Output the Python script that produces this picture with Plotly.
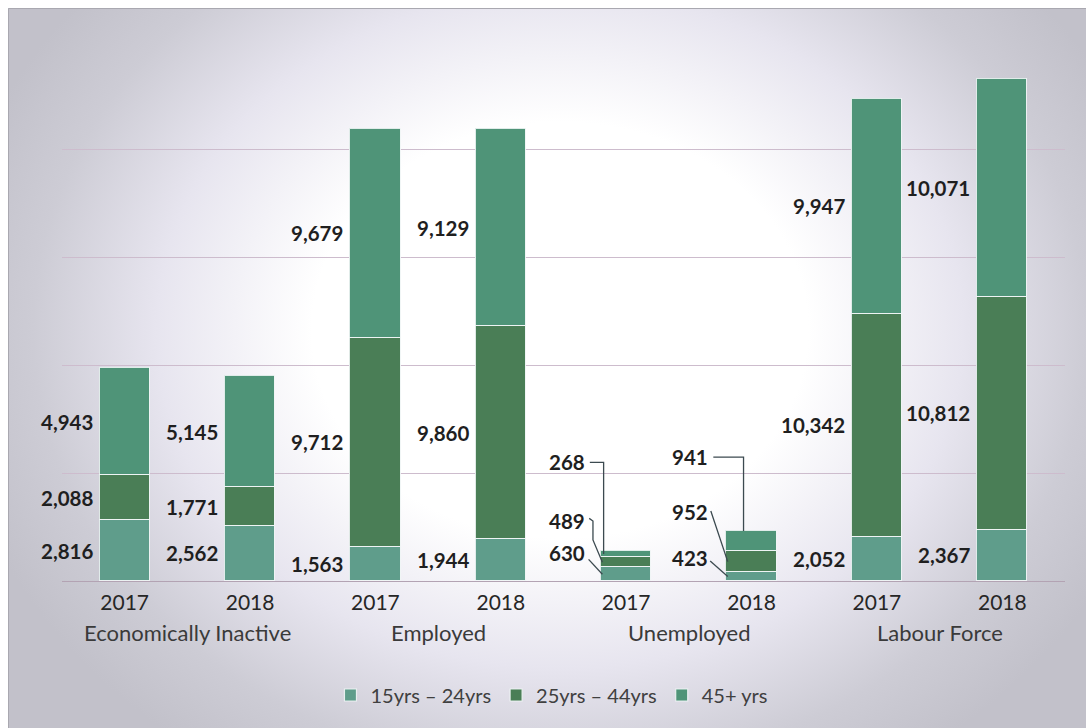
import base64
import plotly.graph_objects as go

# ---------------- data ----------------
groups = ["Economically Inactive", "Employed", "Unemployed", "Labour Force"]
years = ["2017", "2018"]
series_names = ["15yrs \u2013 24yrs", "25yrs \u2013 44yrs", "45+ yrs"]
age_15_24 = [2816, 2562, 1563, 1944, 630, 423, 2052, 2367]
age_25_44 = [2088, 1771, 9712, 9860, 489, 952, 10342, 10812]
age_45_plus = [4943, 5145, 9679, 9129, 268, 941, 9947, 10071]

# ---------------- style ----------------
colors = ["#5f9d8b", "#4a7e56", "#4f9478"]
FONT = "Lato"
label_color = "#1f1f1f"
LABEL_SIZE = 20.5

series = [age_15_24, age_25_44, age_45_plus]
n = len(groups) * len(years)
xpos = list(range(n))
tick_text = [y for g in groups for y in years]
BAR_W = 0.4

fig = go.Figure()
for name, vals, col in zip(series_names, series, colors):
    fig.add_trace(go.Bar(
        x=xpos, y=vals, name=name, width=BAR_W,
        marker=dict(color=col, line=dict(color="rgba(240,245,245,0.9)", width=1.2)),
        hoverinfo="skip",
    ))

# ---------------- background (radial glow) ----------------
svg = (
    '<svg xmlns="http://www.w3.org/2000/svg" width="1078" height="720" viewBox="0 0 1078 720">'
    '<defs><radialGradient id="g" cx="0" cy="0" r="1" gradientUnits="userSpaceOnUse" '
    'gradientTransform="translate(552 322) scale(620 520)">'
    '<stop offset="0" stop-color="#ffffff"/>'
    '<stop offset="0.4" stop-color="#ffffff"/>'
    '<stop offset="0.65" stop-color="#e7e5ef"/>'
    '<stop offset="0.85" stop-color="#cdccd5"/>'
    '<stop offset="1" stop-color="#c2c1ca"/>'
    '</radialGradient></defs>'
    '<rect x="0" y="0" width="1078" height="720" fill="url(#g)"/>'
    '<path d="M0.5 720 L0.5 0.5 L1078 0.5" fill="none" stroke="#a9a8b0" stroke-width="1"/>'
    '</svg>'
)
src = "data:image/svg+xml;base64," + base64.b64encode(svg.encode()).decode()

L, R, T, B = 62, 21, 63, 147
W, H = 1086, 728
pw, ph = W - L - R, H - T - B
fig.add_layout_image(dict(
    source=src, xref="paper", yref="paper",
    x=(8 - L) / pw, y=(H - B - 8) / ph,
    sizex=(W - 8) / pw, sizey=(H - 8) / ph,
    sizing="stretch", xanchor="left", yanchor="top", layer="below",
))

# ---------------- data labels ----------------
annotations = []
shapes = []
unemp_idx = {4, 5}
for i in xpos:
    base = 0
    for s in series:
        v = s[i]
        mid = base + v / 2
        if i not in unemp_idx:
            annotations.append(dict(
                x=i - BAR_W / 2, y=mid, xref="x", yref="y", text=f"{v:,}",
                showarrow=False, xanchor="right", yanchor="middle", xshift=-5,
                font=dict(family=FONT, size=LABEL_SIZE, color=label_color, weight="bold"),
            ))
        base += v

# Unemployed: labels with leader lines (label positions are layout choices)
def cum(i):
    a = age_15_24[i]
    b = a + age_25_44[i]
    c = b + age_45_plus[i]
    return a, b, c

a, b, c = cum(4)
u17 = [  # (value, label x, label y, leader path points)
    (age_45_plus[4], 3.69, 5500, [(3.71, 5500), (3.82, 5500), (3.82, (b + c) / 2)]),
    (age_25_44[4], 3.69, 2780, [(3.705, 2900), (3.735, 2780), (3.735, 1900), (3.81, (a + b) / 2)]),
    (age_15_24[4], 3.69, 1300, [(3.70, 1000), (3.81, a / 2)]),
]
a, b, c = cum(5)
u18 = [
    (age_45_plus[5], 4.665, 5743, [(4.695, 5743), (4.936, 5743), (4.936, c)]),
    (age_25_44[5], 4.665, 3196, [(4.675, 3242), (4.81, (a + b) / 2)]),
    (age_15_24[5], 4.665, 1065, [(4.67, 926), (4.81, a / 2)]),
]
for v, lx, ly, pts in u17 + u18:
    annotations.append(dict(
        x=lx, y=ly, xref="x", yref="y", text=f"{v:,}", showarrow=False,
        xanchor="right", yanchor="middle",
        font=dict(family=FONT, size=LABEL_SIZE, color=label_color, weight="bold"),
    ))
    path = "M " + " L ".join(f"{px},{py}" for px, py in pts)
    shapes.append(dict(type="path", path=path, xref="x", yref="y",
                       line=dict(color="#3c4a50", width=1.3), layer="above"))

# group labels
for gi, g in enumerate(groups):
    annotations.append(dict(
        x=gi * 2 + 0.5, y=-(632 - (H - B)) / ph, xref="x", yref="paper", text=g,
        showarrow=False, xanchor="center", yanchor="middle",
        font=dict(family=FONT, size=22, color="#3a3a3a"),
    ))

fig.update_layout(
    width=W, height=H,
    margin=dict(l=L, r=R, t=T, b=B, pad=0),
    paper_bgcolor="white", plot_bgcolor="rgba(0,0,0,0)",
    barmode="stack", bargap=0,
    showlegend=True,
    legend=dict(orientation="h", x=0.488, xanchor="center", y=-(695 - (H - B)) / ph,
                yanchor="middle", font=dict(family=FONT, size=20, color="#404040"),
                bgcolor="rgba(0,0,0,0)", itemwidth=30, traceorder="normal"),
    xaxis=dict(range=[-0.5, 7.5], tickmode="array", tickvals=xpos, ticktext=tick_text,
               showgrid=False, zeroline=False, showline=False, ticks="",
               ticklabelstandoff=7,
               tickfont=dict(family=FONT, size=21, color="#262626")),
    yaxis=dict(range=[0, 24000], dtick=5000, showticklabels=False, ticks="",
               showgrid=True, gridcolor="#cdbccd", gridwidth=1,
               zeroline=True, zerolinecolor="#b3a3b3", zerolinewidth=1.3),
    annotations=annotations,
    shapes=shapes,
    font=dict(family=FONT),
)

fig.write_html("out.html")
